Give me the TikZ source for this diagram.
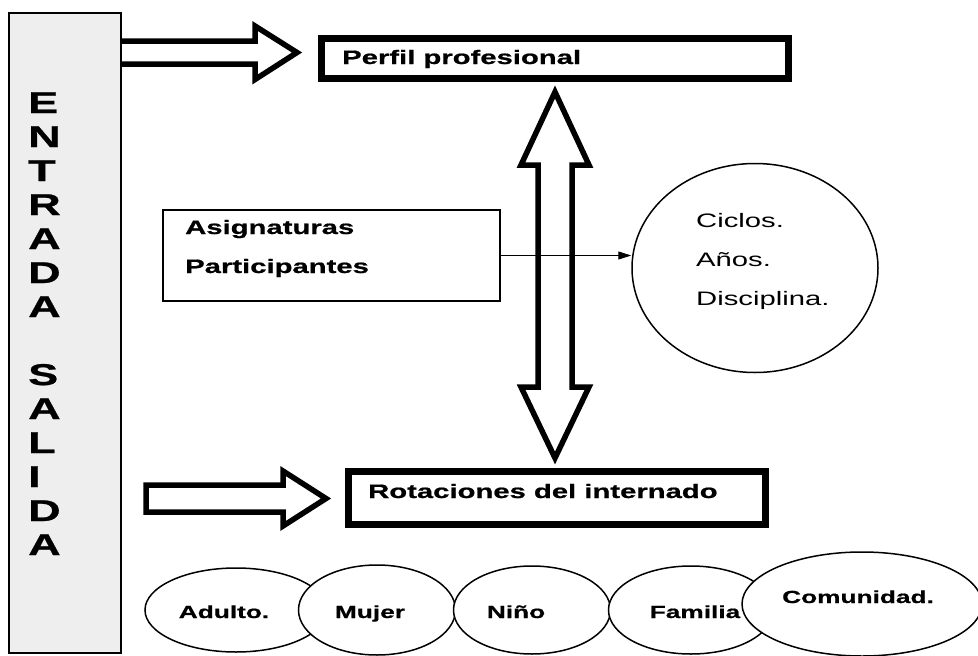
\documentclass[tikz,border=0pt]{standalone}
\usepackage{fontspec}
\setmainfont{Liberation Sans}[FakeStretch=1.5, BoldFeatures={FakeBold=0.8}]
\usetikzlibrary{shapes.geometric,arrows.meta}

\tikzset{
    bigbox/.style={draw, line width=7pt, inner sep=0pt},
    thinbox/.style={draw, line width=1.2pt, inner sep=0pt},
    blockarrow/.style={draw, line width=5.5pt, line join=miter, miter limit=10},
    oval/.style={ellipse, draw, fill=white, line width=1.5pt, inner sep=0pt},
    lbl/.style={inner sep=0pt, anchor=base west, font=\fontsize{19.5}{23}\selectfont\bfseries},
    txt/.style={inner sep=0pt, anchor=base west, font=\fontsize{19.5}{23}\selectfont},
    elab/.style={inner sep=0pt, anchor=base, font=\fontsize{17.5}{21}\selectfont\bfseries},
    letra/.style={inner sep=0pt, anchor=base west, font=\fontsize{30}{34}\selectfont\bfseries}
}

\begin{document}
\begin{tikzpicture}[x=1pt, y=-1pt]
\clip (0,0) rectangle (978,656);
\fill[white] (0,0) rectangle (978,656);

% barra lateral
\node[draw, line width=1.3pt, fill=gray!13, minimum width=112pt, minimum height=640pt, inner sep=0pt] (bar) at (65,333) {};
\foreach \l [count=\i] in {E,N,T,R,A,D,A,,S,A,L,I,D,A}
    \node[letra] (l\i) at (28,{113+34*(\i-1)}) {\l};

% cajas
\node[bigbox, minimum width=467pt, minimum height=40pt] (perfil) at (555,58.5) {};
\node[lbl] (perfiltxt) at (342,64) {Perfil profesional};
\node[bigbox, minimum width=417pt, minimum height=53pt] (rot) at (557,498) {};
\node[lbl] (rottxt) at (368,498) {Rotaciones del internado};
\node[thinbox, minimum width=337pt, minimum height=91pt] (asig) at (331.5,255.5) {};
\node[lbl] (asigtxt) at (185,234) {Asignaturas};
\node[lbl] (parttxt) at (185,273) {Participantes};

% circulo
\node[oval, minimum width=246pt, minimum height=209pt] (ciclos) at (755,268) {};
\node[txt] (c1) at (696,227) {Ciclos.};
\node[txt] (c2) at (696,266) {Años.};
\node[txt] (c3) at (696,305) {Disciplina.};

% flechas gruesas
\path[blockarrow] (121,41) -- (255,41) -- (255,26) -- (297,52.5) -- (255,79.5) -- (255,64) -- (121,64);
\path[blockarrow] (146,485) -- (283,485) -- (283,471) -- (326,498.5) -- (283,526) -- (283,512) -- (146,512) -- cycle;
\path[blockarrow] (555,92) -- (589,165) -- (572,165) -- (572,387) -- (589,387) -- (555,458)
    -- (521,387) -- (538,387) -- (538,165) -- (521,165) -- cycle;

% flecha fina
\draw[line width=1pt, -{Triangle[length=13pt, width=8pt]}] (asig.east) -- (asig.east -| ciclos.west);

% ovalos de abajo
\node[oval, minimum width=182pt, minimum height=84pt] (adulto) at (236,610) {};
\node[elab] at (224,618) {Adulto.};
\node[oval, minimum width=157pt, minimum height=90pt] (mujer) at (377,610) {};
\node[elab] at (370,618) {Mujer};
\node[oval, minimum width=157pt, minimum height=88pt] (nino) at (532,610) {};
\node[elab] at (516,618) {Niño};
\node[oval, minimum width=165pt, minimum height=88pt] (familia) at (691,610) {};
\node[elab] at (695,618) {Familia};
\node[oval, minimum width=240pt, minimum height=104pt] (comunidad) at (862,604) {};
\node[elab] at (858,603) {Comunidad.};
\end{tikzpicture}
\end{document}
